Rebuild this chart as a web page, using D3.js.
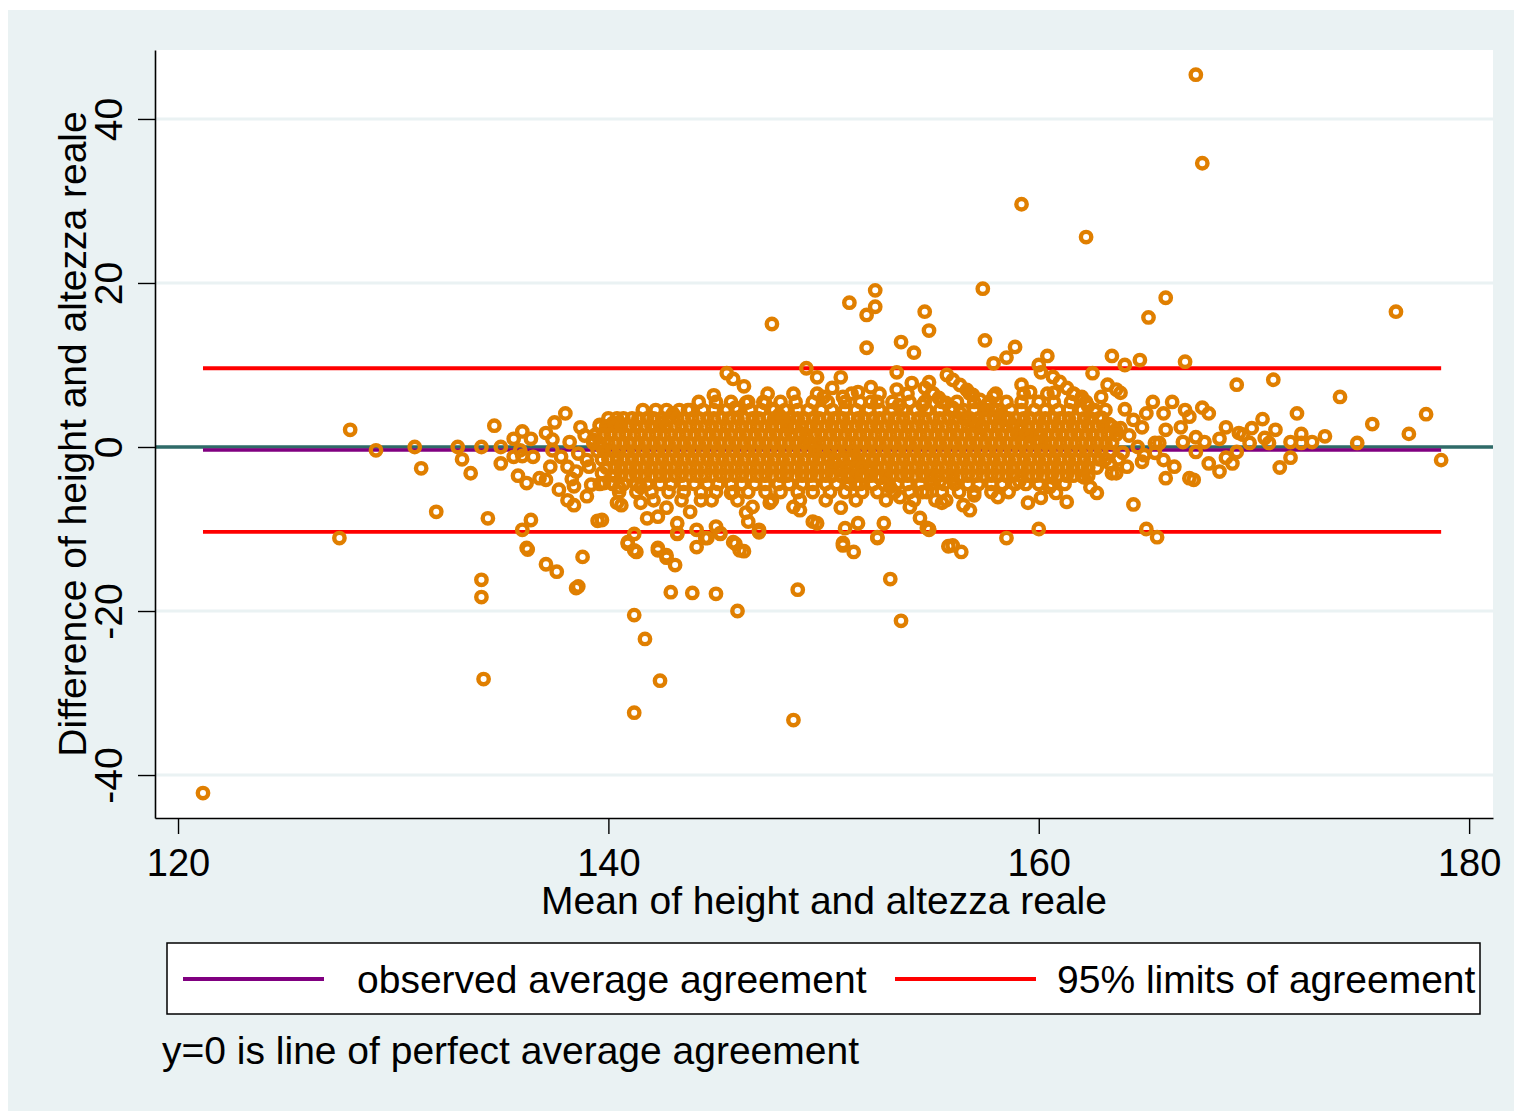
<!DOCTYPE html>
<html><head><meta charset="utf-8">
<script src="https://cdn.jsdelivr.net/npm/d3@7"></script>
<style>body{margin:0;background:#fff}svg{display:block}text{font-family:"Liberation Sans",Arial,sans-serif;fill:#000}</style>
</head><body><svg id="c" width="1515" height="1113"></svg>
<script>
const xTicks = [120, 140, 160, 180];
const yTicks = [-40, -20, 0, 20, 40];
const meanDiff = -0.37;
const loaUpper = 9.6;
const loaLower = -10.35;
const xTitle = "Mean of height and altezza reale";
const yTitle = "Difference of height and altezza reale";
const legendLabels = ["observed average agreement", "95% limits of agreement"];
const noteText = "y=0 is line of perfect average agreement";

const leftPts = [[121.16,-42.2],[127.5,-11.1],[128.0,2.1],[129.2,-0.4],[131.0,0.0],[131.3,-2.6],[132.0,-7.9],[133.0,0.0],[133.2,-1.5],[133.6,-3.2],[134.1,0.0],[134.1,-16.2],[134.1,-18.3],[134.2,-28.3],[134.4,-8.7],[134.7,2.6],[135.0,0.0],[135.0,-2.0],[135.6,1.0],[135.6,-1.2],[135.8,-3.5],[136.2,-4.4],[136.0,1.9],[136.0,-1.1],[136.4,1.0],[136.4,-8.9],[136.0,-10.1],[136.2,-12.3],[136.25,-12.5],[137.1,-14.3],[137.6,-15.2],[137.5,3.0],[138.0,4.1],[137.1,1.7],[137.4,0.9],[136.8,-3.8],[137.1,-4.0],[137.7,-5.2],[138.1,-6.5],[138.4,-7.1],[139.0,-6.0],[138.4,-4.8],[139.5,-9.0],[138.8,-13.4],[138.6,-17.0],[138.5,-17.2],[138.7,2.4],[139.6,2.7],[140.2,2.9],[137.8,-1.2],[138.1,-2.4],[138.5,-3.0],[139.1,-2.4],[139.7,-3.2],[140.4,-1.2],[139.3,0.9],[139.7,0.0],[140.2,-4.4],[140.4,-6.8],[135.9,-0.4],[136.5,-1.2],[137.3,-2.4],[137.4,-0.4],[138.2,0.6],[138.6,-0.8],[138.9,1.4],[139.0,-1.6],[138.3,-3.9],[139.2,-4.6]];

const lowerPts = [[141.2,-10.6],[140.9,-11.8],[141.3,-12.8],[142.3,-12.6],[142.7,-13.5],[143.1,-14.4],[143.2,-10.6],[144.1,-12.2],[144.5,-11.1],[145.2,-10.6],[145.9,-11.8],[146.3,-12.7],[147.0,-10.4],[142.9,-17.7],[143.9,-17.8],[145.0,-17.9],[146.0,-20.0],[141.2,-20.5],[141.7,-23.4],[142.4,-28.5],[141.2,-32.4],[148.8,-17.4],[148.6,-33.3],[150.9,-12.0],[151.4,-12.8],[152.5,-11.0],[153.1,-16.1],[153.6,-21.2],[154.9,-10.1],[155.8,-12.1],[139.8,-4.4],[140.5,-4.9],[141.5,-4.9],[140.6,-7.1],[141.5,-6.8],[141.8,-8.7],[142.3,-8.5],[142.7,-7.4],[143.2,-9.3],[143.8,-7.9],[144.3,-6.5],[143.2,-10.5],[144.1,-10.1],[144.6,-11.1],[145.0,-9.7],[145.2,-10.5],[145.8,-11.6],[146.1,-12.6],[145.7,-5.6],[146.4,-8.0],[146.7,-7.3],[146.5,-9.1],[147.0,-10.1],[147.5,-6.8],[148.6,-7.3],[148.9,-7.7],[149.5,-9.1],[149.7,-9.3],[150.8,-7.4],[151.0,-9.9],[150.9,-11.7],[139.7,-8.9],[140.9,-11.6],[141.2,-12.6],[142.3,-12.3],[142.7,-13.2],[154.9,-10.0],[151.6,-9.3],[152.8,-9.3],[152.5,-11.1],[156.0,-12.0],[156.4,-12.8],[158.5,-11.1],[160.0,-10.0],[159.5,-6.8],[158.1,-6.1],[160.1,-6.2],[160.8,-5.6],[161.3,-6.7],[156.8,-7.7],[156.5,-7.1],[155.5,-6.8],[155.2,-6.5],[157.0,-5.9],[154.6,-5.5],[155.0,-4.0],[155.4,-4.2],[156.0,-4.0],[158.3,-4.6],[159.1,-4.2],[160.5,-4.9],[162.1,-3.7],[162.7,-5.6],[162.4,-4.9],[163.4,-3.2],[163.3,-2.0]];

const upperPts = [[167.3,45.4],[167.6,34.6],[159.2,29.6],[162.2,25.6],[147.6,15.0],[151.2,17.6],[152.4,19.1],[152.4,17.1],[152.0,16.1],[152.0,12.1],[154.7,16.5],[154.9,14.2],[157.4,19.3],[157.5,13.0],[153.6,12.8],[154.2,11.5],[158.9,12.2],[158.5,10.9],[157.9,10.2],[160.4,11.1],[160.0,10.0],[163.4,11.1],[164.0,10.0],[164.7,10.6],[165.1,15.8],[165.9,18.2],[166.8,10.4],[176.6,16.5],[149.2,9.6],[153.4,9.1],[162.5,9.0],[145.5,9.0],[145.8,8.3],[146.3,7.4],[149.7,8.5],[150.8,8.5],[150.4,7.2],[150.0,6.1],[150.9,6.1],[144.9,6.3],[146.4,5.4],[145.9,4.8],[140.5,3.0],[141.4,3.4],[142.5,3.0],[143.0,4.1],[143.7,4.5],[160.1,9.1],[159.2,7.6],[159.6,6.7],[160.7,6.6],[163.2,7.6],[162.9,6.1],[162.0,6.1],[162.2,5.5],[151.6,6.7],[152.2,7.3],[153.4,7.0],[154.1,7.8],[154.9,7.9],[157.9,6.2],[152.2,5.5],[153.5,5.1],[154.6,5.1]];

const rightPts = [[169.2,7.6],[170.9,8.2],[174.0,6.1],[178.0,4.0],[175.5,2.8],[177.2,1.6],[174.8,0.5],[178.7,-1.6],[173.3,1.3],[172.7,0.6],[172.2,1.6],[172.2,0.5],[171.7,0.6],[172.0,4.1],[171.7,-1.3],[171.2,-2.5],[171.0,2.1],[170.7,0.5],[170.4,3.4],[170.5,1.1],[169.9,2.3],[169.8,0.5],[169.5,1.5],[169.3,1.7],[169.2,-0.6],[169.0,-2.0],[168.7,2.4],[168.7,-1.3],[168.4,1.0],[168.4,-3.0],[167.9,-2.0],[167.9,4.1],[167.6,4.8],[167.7,0.6],[167.3,-0.6],[167.3,1.2],[167.2,-4.0],[167.0,-3.8],[167.0,3.7],[166.8,4.5],[166.2,5.5],[165.3,5.5],[165.0,4.1],[164.4,3.3],[165.9,-3.8],[166.3,-2.4],[164.8,-1.8],[164.1,-2.4],[163.6,-3.2],[165.8,-1.6],[165.6,0.5],[165.9,2.1],[166.6,2.4],[166.7,0.6],[164.4,-7.0],[165.0,-10.0],[165.5,-11.0],[165.8,4.1],[164.8,2.4],[163.8,2.3],[163.6,7.0],[163.8,6.6],[165.4,0.5],[164.6,0.0],[165.4,-0.7],[163.9,-0.7],[163.4,0.5],[164.2,1.4],[164.9,-1.0],[164.0,4.6],[163.7,-1.5]];

const streakPts = [[147.28,5.37],[147.60,4.63],[147.93,3.90],[148.25,3.17],[148.58,2.44],[148.90,1.71],[149.23,0.98],[149.55,0.24],[149.88,-0.49],[150.20,-1.22],[150.53,-1.95],[150.86,-2.80],[151.18,-3.66],[151.51,-4.51],
[155.73,8.78],[156.01,8.17],[156.34,7.56],[156.66,6.95],[156.94,6.34],[157.27,5.73],[157.59,5.12],[157.87,4.51],[158.20,3.90],[158.52,3.29],[158.80,2.68],[159.13,2.07],[159.59,1.34],[160.06,0.61],
[154.71,7.20],[155.04,6.59],[155.36,5.98],[155.69,5.37],[156.01,4.76],[156.34,4.15],[156.66,3.54],[156.99,2.93],[157.31,2.32],
[151.23,-1.22],[151.69,-2.07],[152.16,-2.93],[152.62,-3.78],[153.09,-4.88],[153.55,-6.10],[154.01,-7.32],[154.48,-8.66],[154.80,-9.88],
[160.66,8.54],[160.98,7.93],[161.31,7.20],[161.64,6.46],[161.96,5.73],[162.29,5.00],[162.61,4.27],[162.94,3.54],[163.26,2.80],[163.59,2.07]];

const coreRowDiff = [6.5, 5.5, 4.5, 3.5, 2.5, 1.5, 0.5, -0.5, -1.5, -2.5, -3.5, -4.5, -5.5, -6.5];
const coreRowMean = [
[147.4,148.6,149.7,151.3,152.6,153.9,155.1,156.8,158.0,159.3,160.4,161.6],
[144.2,145.0,145.7,146.5,147.2,148.0,148.7,149.5,150.2,151.0,151.7,152.5,153.2,154.0,154.7,155.5,156.2,157.0,157.7,158.5,159.2,160.0,160.7,161.5],
[141.6,142.2,142.7,143.3,143.8,144.4,144.9,145.5,146.0,146.6,147.1,147.7,148.2,148.8,149.3,149.9,150.4,151.0,151.5,152.1,152.6,153.2,153.7,154.3,154.8,155.4,155.9,156.5,157.0,157.6,158.1,158.7,159.2,159.8,160.3,160.9,161.4,162.0,162.6,163.1],
[140.0,140.4,140.7,141.1,141.4,141.8,142.1,142.5,142.8,143.2,143.5,143.9,144.2,144.6,144.9,145.3,145.6,146.0,146.3,146.7,147.0,147.4,147.7,148.1,148.4,148.8,149.1,149.5,149.8,150.2,150.5,150.9,151.2,151.6,151.9,152.3,152.6,153.0,153.3,153.7,154.0,154.4,154.7,155.1,155.4,155.8,156.1,156.5,156.8,157.2,157.5,157.9,158.2,158.6,158.9,159.3,159.6,160.0,160.3,160.7,161.0,161.4,161.7,162.1,162.4,162.8],
[139.6,139.9,140.3,140.6,141.0,141.3,141.7,142.0,142.4,142.7,143.1,143.4,143.8,144.1,144.5,144.8,145.2,145.5,145.9,146.2,146.6,146.9,147.3,147.6,148.0,148.3,148.7,149.0,149.4,149.7,150.1,150.4,150.8,151.1,151.5,151.8,152.2,152.5,152.9,153.2,153.6,153.9,154.3,154.6,155.0,155.3,155.7,156.0,156.4,156.7,157.1,157.4,157.8,158.1,158.5,158.8,159.2,159.5,159.9,160.2,160.6,160.9,161.3,161.6,162.0,162.3,162.7,163.0,163.4],
[139.4,139.8,140.1,140.5,140.8,141.2,141.5,141.9,142.2,142.6,142.9,143.3,143.6,144.0,144.3,144.7,145.0,145.4,145.7,146.1,146.4,146.8,147.1,147.5,147.8,148.2,148.5,148.9,149.2,149.6,149.9,150.3,150.6,151.0,151.3,151.7,152.0,152.4,152.7,153.1,153.4,153.8,154.1,154.5,154.8,155.2,155.5,155.9,156.2,156.6,156.9,157.3,157.6,158.0,158.3,158.7,159.0,159.4,159.7,160.1,160.4,160.8,161.1,161.5,161.8,162.2,162.5,162.9,163.2,163.6],
[139.3,139.6,140.0,140.3,140.7,141.0,141.4,141.7,142.1,142.4,142.8,143.1,143.5,143.8,144.2,144.5,144.9,145.2,145.6,145.9,146.3,146.6,147.0,147.3,147.7,148.0,148.4,148.7,149.1,149.4,149.8,150.1,150.5,150.8,151.2,151.5,151.9,152.2,152.6,152.9,153.3,153.6,154.0,154.3,154.7,155.0,155.4,155.7,156.1,156.4,156.8,157.1,157.5,157.8,158.2,158.5,158.9,159.2,159.6,159.9,160.3,160.6,161.0,161.3,161.7,162.0,162.4,162.7,163.1,163.4],
[139.5,139.8,140.2,140.5,140.9,141.2,141.6,141.9,142.3,142.6,143.0,143.3,143.7,144.0,144.4,144.7,145.1,145.4,145.8,146.1,146.5,146.8,147.2,147.5,147.9,148.2,148.6,148.9,149.3,149.6,150.0,150.3,150.7,151.0,151.4,151.7,152.1,152.4,152.8,153.1,153.5,153.8,154.2,154.5,154.9,155.2,155.6,155.9,156.3,156.6,157.0,157.3,157.7,158.0,158.4,158.7,159.1,159.4,159.8,160.1,160.5,160.8,161.2,161.5,161.9,162.2,162.6,162.9,163.3],
[139.7,140.0,140.4,140.7,141.1,141.4,141.8,142.1,142.5,142.8,143.2,143.5,143.9,144.2,144.6,144.9,145.3,145.6,146.0,146.3,146.7,147.0,147.4,147.7,148.1,148.4,148.8,149.1,149.5,149.8,150.2,150.5,150.9,151.2,151.6,151.9,152.3,152.6,153.0,153.3,153.7,154.0,154.4,154.7,155.1,155.4,155.8,156.1,156.5,156.8,157.2,157.5,157.9,158.2,158.6,158.9,159.3,159.6,160.0,160.3,160.7,161.0,161.4,161.7,162.1,162.4,162.8,163.1],
[139.9,140.3,140.6,141.0,141.3,141.7,142.0,142.4,142.7,143.1,143.4,143.8,144.1,144.5,144.8,145.2,145.5,145.9,146.2,146.6,146.9,147.3,147.6,148.0,148.3,148.7,149.0,149.4,149.7,150.1,150.4,150.8,151.1,151.5,151.8,152.2,152.5,152.9,153.2,153.6,153.9,154.3,154.6,155.0,155.3,155.7,156.0,156.4,156.7,157.1,157.4,157.8,158.1,158.5,158.8,159.2,159.5,159.9,160.2,160.6,160.9,161.3,161.6,162.0,162.3,162.7],
[140.3,140.6,141.0,141.3,141.7,142.0,142.4,142.7,143.1,143.4,143.8,144.1,144.5,144.8,145.2,145.5,145.9,146.2,146.6,146.9,147.3,147.6,148.0,148.3,148.7,149.0,149.4,149.7,150.1,150.4,150.8,151.1,151.5,151.8,152.2,152.5,152.9,153.2,153.6,153.9,154.3,154.6,155.0,155.3,155.7,156.0,156.4,156.7,157.1,157.4,157.8,158.1,158.5,158.8,159.2,159.5,159.9,160.2,160.6,160.9,161.3,161.6,162.0,162.3],
[139.6,140.2,140.7,141.3,141.8,142.4,142.9,143.5,144.0,144.6,145.1,145.7,146.2,146.8,147.3,147.9,148.4,149.0,149.5,150.1,150.6,151.2,151.7,152.3,152.8,153.4,153.9,154.5,155.0,155.6,156.1,156.7,157.2,157.8,158.3,158.9,159.4,160.0,160.6,161.2],
[140.5,141.3,142.0,142.8,143.5,144.3,145.0,145.8,146.5,147.3,148.0,148.8,149.5,150.3,151.0,151.8,152.5,153.3,154.0,154.8,155.5,156.3,157.0,157.8,158.6],
[142.1,143.4,144.8,146.0,147.6,148.9,150.1,151.5,152.9,154.2,155.7]
];

const W = 1515, H = 1113;
const plot = {x0: 155, x1: 1493, y0: 50, y1: 818};
const svg = d3.select("#c");
const FONT = '"Liberation Sans", Arial, sans-serif';

const x = d3.scaleLinear().domain([118.93, 181.11]).range([plot.x0, plot.x1]);
const y = d3.scaleLinear().domain([-45.24, 48.41]).range([plot.y1, plot.y0]);

// backgrounds
svg.append("rect").attr("x", 0).attr("y", 0).attr("width", W).attr("height", H).attr("fill", "#ffffff");
svg.append("rect").attr("x", 8).attr("y", 10).attr("width", 1506).attr("height", 1101).attr("fill", "#eaf2f3");
svg.append("rect").attr("x", plot.x0).attr("y", plot.y0).attr("width", plot.x1 - plot.x0).attr("height", plot.y1 - plot.y0).attr("fill", "#ffffff");

// gridlines
svg.append("g").selectAll("line").data(yTicks).join("line")
  .attr("x1", plot.x0).attr("x2", plot.x1)
  .attr("y1", d => y(d)).attr("y2", d => y(d))
  .attr("stroke", "#eaf2f3").attr("stroke-width", 3);

// line of perfect agreement
svg.append("line").attr("x1", plot.x0).attr("x2", plot.x1).attr("y1", y(0)).attr("y2", y(0))
  .attr("stroke", "#2f6b68").attr("stroke-width", 3.3);

const pts = [].concat(leftPts, lowerPts, upperPts, rightPts, streakPts);
coreRowDiff.forEach((d, i) => coreRowMean[i].forEach(m => pts.push([m, d])));
const mExt = d3.extent(pts, p => p[0]);

svg.append("line").attr("x1", x(mExt[0])).attr("x2", x(mExt[1])).attr("y1", y(meanDiff)).attr("y2", y(meanDiff))
  .attr("stroke", "#800080").attr("stroke-width", 3.4);
[loaUpper, loaLower].forEach(v => {
  svg.append("line").attr("x1", x(mExt[0])).attr("x2", x(mExt[1])).attr("y1", y(v)).attr("y2", y(v))
    .attr("stroke", "#ff0000").attr("stroke-width", 3.8);
});

// points
svg.append("g").selectAll("circle").data(pts).join("circle")
  .attr("cx", p => x(p[0])).attr("cy", p => y(p[1])).attr("r", 5.2)
  .attr("fill", "none").attr("stroke", "#e07f00").attr("stroke-width", 4.4);

// axes
const fs = 39;
const yAxis = svg.append("g").attr("transform", `translate(${plot.x0},0)`)
  .call(d3.axisLeft(y).tickValues(yTicks).tickSize(17).tickSizeOuter(0).tickFormat(d => String(d)));
yAxis.select(".domain").attr("stroke", "#000").attr("stroke-width", 1.6);
yAxis.selectAll(".tick line").attr("stroke", "#000").attr("stroke-width", 1.4);
yAxis.selectAll(".tick text").attr("x", null).attr("dy", null).attr("y", null)
  .attr("transform", "translate(-33,0) rotate(-90)").attr("text-anchor", "middle")
  .attr("font-size", fs).attr("font-family", FONT).attr("fill", "#000");

const xAxis = svg.append("g").attr("transform", `translate(0,${plot.y1})`)
  .call(d3.axisBottom(x).tickValues(xTicks).tickSize(16).tickSizeOuter(0).tickFormat(d => String(d)));
xAxis.select(".domain").attr("stroke", "#000").attr("stroke-width", 1.6);
xAxis.selectAll(".tick line").attr("stroke", "#000").attr("stroke-width", 1.4);
xAxis.selectAll(".tick text").attr("dy", null).attr("y", 58)
  .attr("font-size", 38).attr("font-family", FONT).attr("fill", "#000");

// titles
svg.append("text").attr("x", (plot.x0 + plot.x1) / 2).attr("y", 914).attr("text-anchor", "middle")
  .attr("font-size", fs).text(xTitle);
svg.append("text").attr("transform", `translate(86,${(plot.y0 + plot.y1) / 2}) rotate(-90)`).attr("text-anchor", "middle")
  .attr("font-size", fs).text(yTitle);

// legend
svg.append("rect").attr("x", 167).attr("y", 943).attr("width", 1313).attr("height", 71)
  .attr("fill", "#fff").attr("stroke", "#000").attr("stroke-width", 1.5);
const legItems = [
  {label: legendLabels[0], color: "#800080", lx: 183, tx: 357},
  {label: legendLabels[1], color: "#ff0000", lx: 895, tx: 1057}
];
legItems.forEach(it => {
  svg.append("line").attr("x1", it.lx).attr("x2", it.lx + 141).attr("y1", 979).attr("y2", 979)
    .attr("stroke", it.color).attr("stroke-width", 4);
  svg.append("text").attr("x", it.tx).attr("y", 993).attr("font-size", fs).text(it.label);
});

// note
svg.append("text").attr("x", 162).attr("y", 1064).attr("font-size", fs).text(noteText);
</script></body></html>
